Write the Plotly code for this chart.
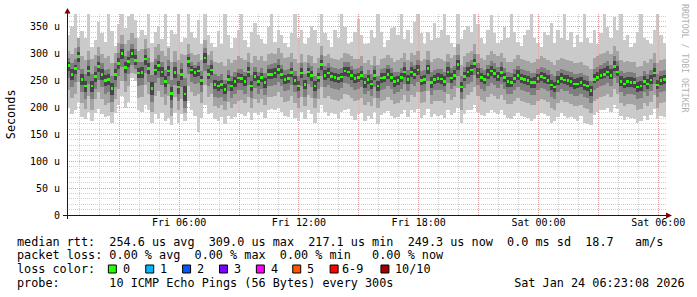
import plotly.graph_objects as go
from datetime import datetime, timedelta

# ---------------- data (10-minute steps, 30 hours) ----------------
START = datetime(2026, 1, 23, 0, 23, 8)
STEP_MIN = 10
HOURS = 30

median = [278, 262, 272, 295, 252, 240, 268, 240, 258, 276, 262, 250, 252, 236, 262, 282, 300, 275, 285, 300, 288, 264, 265, 290, 272, 236, 270, 278, 266, 249, 268, 226, 265, 238, 262, 225,
          285, 270, 265, 268, 250, 292, 262, 270, 243, 240, 243, 234, 252, 240, 248, 255, 254, 249, 266, 240, 258, 249, 256, 246, 262, 262, 264, 271, 262, 252, 254, 265, 250, 240, 264, 243,
          266, 260, 240, 256, 280, 260, 264, 258, 256, 254, 257, 268, 266, 260, 254, 256, 260, 246, 252, 244, 260, 240, 255, 256, 262, 256, 248, 250, 256, 266, 252, 266, 262, 270, 250, 252,
          272, 246, 252, 254, 253, 248, 266, 255, 260, 280, 238, 258, 266, 270, 282, 264, 256, 252, 262, 268, 263, 258, 265, 256, 248, 247, 254, 260, 254, 252, 250, 246, 246, 254, 258, 255,
          250, 242, 238, 249, 254, 251, 250, 248, 244, 244, 246, 242, 240, 232, 252, 256, 260, 262, 266, 260, 276, 266, 248, 244, 248, 247, 246, 238, 240, 248, 244, 251, 264, 242, 250, 252]

ping_max = [335, 350, 390, 318, 342, 330, 390, 312, 325, 360, 338, 322, 390, 342, 315, 355, 390, 348, 370, 390, 362, 330, 345, 335, 390, 320, 340, 352, 328, 390, 315, 345, 336, 390, 322, 330,
            390, 340, 330, 362, 318, 390, 335, 320, 312, 342, 318, 390, 335, 310, 330, 345, 390, 325, 312, 340, 358, 335, 328, 318, 350, 390, 322, 345, 335, 320, 312, 338, 390, 330, 345, 318,
            330, 352, 345, 320, 390, 338, 325, 312, 345, 330, 390, 350, 318, 322, 340, 365, 335, 318, 320, 345, 330, 390, 340, 312, 325, 348, 350, 335, 390, 328, 345, 320, 360, 390, 338, 318,
            340, 325, 358, 330, 345, 390, 335, 320, 312, 390, 328, 345, 352, 340, 390, 355, 330, 318, 345, 372, 338, 320, 325, 350, 330, 390, 340, 322, 315, 335, 345, 390, 330, 320, 312, 340,
            335, 358, 320, 345, 330, 390, 325, 340, 312, 335, 322, 390, 330, 320, 345, 318, 338, 390, 350, 330, 368, 345, 390, 325, 335, 312, 320, 340, 390, 330, 325, 318, 345, 390, 335, 320]

ping_hi2 = [305, 300, 310, 330, 295, 288, 305, 290, 298, 312, 300, 292, 295, 282, 302, 320, 335, 318, 325, 338, 330, 305, 308, 328, 310, 285, 312, 318, 305, 295, 310, 285, 305, 288, 300, 298,
            318, 302, 298, 300, 288, 325, 298, 305, 285, 282, 285, 278, 290, 282, 288, 295, 292, 288, 302, 282, 295, 288, 295, 286, 300, 302, 300, 310, 302, 292, 294, 302, 290, 282, 300, 285,
            298, 295, 282, 292, 315, 296, 300, 292, 290, 288, 292, 302, 300, 296, 290, 290, 296, 282, 288, 280, 296, 280, 290, 292, 298, 292, 285, 288, 292, 302, 288, 302, 298, 306, 286, 290,
            305, 285, 290, 292, 290, 286, 300, 292, 298, 318, 280, 295, 302, 305, 318, 300, 292, 288, 298, 305, 300, 295, 302, 292, 285, 284, 290, 298, 290, 288, 286, 282, 284, 290, 295, 292,
            288, 284, 280, 288, 292, 290, 288, 286, 282, 282, 285, 280, 278, 272, 292, 296, 300, 302, 306, 300, 315, 305, 288, 284, 286, 285, 284, 276, 278, 286, 282, 290, 302, 282, 288, 290]

ping_hi3 = [292, 282, 290, 312, 272, 262, 288, 262, 278, 295, 282, 270, 272, 258, 282, 302, 318, 296, 305, 318, 308, 285, 285, 308, 292, 260, 290, 298, 285, 270, 288, 252, 285, 262, 282, 255,
            300, 285, 280, 285, 268, 310, 280, 288, 262, 258, 262, 252, 270, 258, 266, 272, 272, 266, 284, 260, 276, 266, 274, 264, 280, 281, 282, 290, 280, 270, 272, 284, 268, 258, 282, 262,
            282, 277, 258, 274, 298, 278, 282, 275, 273, 271, 274, 285, 284, 278, 271, 273, 277, 263, 270, 262, 278, 258, 272, 274, 280, 274, 266, 267, 273, 284, 270, 284, 280, 288, 268, 270,
            288, 266, 270, 272, 272, 267, 284, 274, 278, 298, 258, 276, 284, 288, 300, 282, 274, 270, 280, 286, 282, 276, 284, 274, 266, 265, 272, 278, 272, 270, 268, 264, 265, 272, 276, 273,
            270, 262, 258, 268, 272, 270, 268, 266, 262, 263, 265, 260, 258, 250, 272, 276, 280, 282, 286, 280, 296, 286, 268, 264, 266, 266, 264, 256, 258, 268, 262, 270, 282, 262, 268, 270]

ping_hi4 = [285, 272, 280, 303, 262, 250, 277, 250, 267, 285, 272, 260, 262, 246, 272, 292, 308, 285, 294, 308, 297, 274, 275, 298, 282, 248, 280, 287, 275, 259, 278, 238, 275, 250, 272, 240,
            294, 278, 273, 277, 259, 302, 271, 280, 252, 249, 252, 243, 261, 249, 257, 264, 263, 258, 275, 250, 267, 258, 265, 255, 271, 271, 273, 280, 271, 261, 263, 274, 259, 249, 273, 252,
            274, 268, 249, 265, 289, 269, 273, 266, 265, 262, 265, 276, 275, 269, 262, 264, 268, 254, 261, 252, 269, 249, 264, 265, 271, 265, 257, 258, 264, 275, 261, 275, 271, 279, 259, 261,
            280, 256, 261, 264, 263, 258, 275, 265, 270, 289, 248, 267, 275, 279, 291, 273, 265, 261, 271, 277, 272, 267, 275, 265, 257, 256, 263, 269, 263, 261, 259, 255, 256, 263, 267, 264,
            261, 252, 248, 259, 264, 261, 260, 257, 253, 254, 256, 251, 249, 240, 263, 267, 271, 273, 277, 271, 287, 277, 258, 254, 257, 257, 255, 247, 249, 259, 253, 261, 274, 252, 259, 261]

ping_lo4 = [268, 252, 262, 285, 242, 228, 258, 228, 248, 266, 252, 240, 242, 224, 252, 272, 290, 265, 276, 292, 280, 254, 255, 280, 262, 224, 260, 268, 256, 238, 258, 214, 255, 226, 252, 212,
            276, 262, 257, 259, 241, 283, 253, 260, 234, 231, 234, 225, 243, 231, 239, 246, 245, 240, 257, 231, 249, 240, 247, 237, 253, 253, 255, 262, 253, 243, 245, 256, 241, 231, 255, 234,
            256, 250, 230, 247, 270, 251, 254, 249, 247, 245, 248, 259, 257, 251, 245, 247, 251, 237, 243, 235, 251, 230, 246, 247, 253, 247, 239, 241, 247, 257, 243, 257, 253, 261, 241, 243,
            262, 236, 243, 245, 244, 240, 257, 246, 251, 270, 228, 249, 257, 261, 273, 255, 247, 243, 253, 259, 254, 249, 256, 247, 239, 238, 245, 251, 245, 243, 241, 237, 237, 245, 249, 246,
            243, 233, 229, 241, 246, 243, 242, 239, 235, 236, 238, 233, 231, 222, 245, 249, 253, 255, 259, 253, 268, 259, 240, 236, 239, 239, 237, 229, 231, 241, 235, 243, 256, 234, 241, 243]

ping_lo3 = [255, 238, 248, 270, 228, 215, 244, 215, 235, 252, 238, 226, 228, 210, 238, 258, 275, 250, 262, 280, 272, 240, 242, 265, 248, 210, 246, 254, 242, 225, 244, 200, 242, 212, 238, 200,
            262, 248, 244, 246, 228, 268, 240, 246, 220, 218, 220, 212, 230, 218, 226, 232, 232, 226, 242, 218, 236, 226, 234, 224, 240, 240, 242, 248, 240, 230, 232, 242, 228, 218, 240, 220,
            244, 238, 218, 234, 258, 238, 242, 236, 235, 232, 236, 246, 244, 238, 232, 234, 238, 225, 230, 222, 238, 218, 233, 234, 240, 234, 226, 228, 234, 244, 230, 244, 240, 248, 228, 230,
            250, 224, 232, 232, 232, 228, 245, 234, 240, 258, 215, 236, 244, 248, 260, 242, 234, 230, 240, 246, 242, 236, 244, 234, 226, 226, 232, 238, 232, 230, 228, 224, 224, 232, 236, 234,
            230, 220, 216, 228, 234, 230, 230, 226, 222, 222, 225, 220, 218, 208, 232, 236, 240, 242, 246, 240, 255, 246, 228, 222, 226, 226, 224, 216, 218, 228, 222, 230, 244, 220, 228, 230]

ping_lo2 = [232, 218, 225, 248, 208, 198, 222, 196, 215, 228, 215, 205, 208, 192, 215, 235, 250, 228, 240, 265, 262, 218, 220, 242, 225, 192, 222, 230, 220, 205, 222, 185, 220, 195, 215, 190,
            240, 228, 222, 225, 208, 242, 220, 225, 202, 200, 204, 196, 210, 200, 206, 212, 214, 208, 220, 200, 216, 208, 215, 205, 220, 220, 222, 228, 220, 210, 212, 222, 208, 200, 220, 202,
            224, 218, 200, 215, 238, 218, 222, 216, 214, 212, 216, 226, 224, 218, 212, 214, 218, 205, 210, 202, 218, 200, 212, 214, 220, 214, 206, 208, 214, 224, 210, 224, 220, 228, 208, 210,
            230, 206, 212, 212, 212, 208, 225, 214, 220, 236, 196, 216, 224, 228, 238, 222, 214, 210, 220, 226, 222, 216, 224, 214, 206, 206, 212, 218, 212, 210, 208, 204, 204, 212, 216, 214,
            210, 200, 196, 208, 214, 210, 210, 206, 202, 202, 205, 200, 198, 190, 212, 216, 220, 222, 226, 220, 234, 226, 208, 202, 206, 206, 204, 196, 198, 208, 202, 210, 224, 200, 208, 210]

ping_min = [200, 188, 195, 210, 182, 178, 192, 175, 190, 198, 188, 182, 185, 172, 190, 205, 222, 200, 210, 255, 250, 195, 192, 205, 195, 172, 188, 178, 190, 175, 180, 168, 190, 172, 188, 175,
            212, 195, 185, 155, 180, 205, 188, 190, 178, 175, 182, 170, 185, 178, 182, 190, 188, 185, 192, 176, 190, 186, 192, 180, 195, 198, 196, 200, 192, 184, 182, 196, 180, 175, 192, 178,
            195, 188, 172, 190, 205, 192, 185, 190, 188, 180, 192, 196, 198, 185, 176, 188, 190, 175, 185, 178, 192, 170, 186, 190, 194, 185, 180, 182, 188, 195, 182, 196, 192, 198, 180, 186,
            198, 182, 188, 185, 186, 180, 195, 186, 190, 200, 172, 188, 196, 195, 205, 192, 186, 184, 190, 196, 192, 188, 195, 186, 180, 178, 184, 190, 185, 182, 180, 175, 178, 186, 190, 188,
            185, 172, 175, 182, 190, 185, 180, 182, 178, 175, 184, 172, 170, 168, 186, 192, 195, 196, 200, 192, 205, 198, 184, 176, 182, 180, 178, 172, 175, 185, 176, 186, 198, 178, 184, 182]

y_tick_vals = [0, 50, 100, 150, 200, 250, 300, 350]
y_tick_text = ["0", "50 u", "100 u", "150 u", "200 u", "250 u", "300 u", "350 u"]
x_tick_vals = ["2026-01-23 03:00", "2026-01-23 06:00", "2026-01-23 09:00", "2026-01-23 12:00",
               "2026-01-23 15:00", "2026-01-23 18:00", "2026-01-23 21:00", "2026-01-24 00:00",
               "2026-01-24 03:00", "2026-01-24 06:00"]
x_tick_text = ["", "Fri 06:00", "", "Fri 12:00", "", "Fri 18:00", "", "Sat 00:00", "", "Sat 06:00"]

legend_rows = [
    "median rtt:  254.6 us avg  309.0 us max  217.1 us min  249.3 us now  0.0 ms sd  18.7   am/s",
    "packet loss: 0.00 % avg  0.00 % max  0.00 % min   0.00 % now",
    "loss color:",
    "probe:       10 ICMP Echo Pings (56 Bytes) every 300s                 Sat Jan 24 06:23:08 2026",
]
loss_labels = ["0", "1", "2", "3", "4", "5", "6-9", "10/10"]
loss_colors = ["#26ff00", "#00b8ff", "#0059ff", "#7e00ff", "#ff00ff", "#ff5500", "#ff0000", "#a10000"]

N = len(median)
for arr in (ping_max, ping_hi2, ping_hi3, ping_hi4, ping_lo4, ping_lo3, ping_lo2, ping_min):
    assert len(arr) == N, len(arr)

# ---------------- geometry helpers ----------------
W, H = 697, 297
L, R, T, B = 67, 29, 14, 82
PW, PH = W - L - R, H - T - B
YMAX = 374


def px(x):
    return (x - L) / PW


def py(y):
    return (H - B - y) / PH


step = timedelta(minutes=STEP_MIN)
times = [START + step * (i + 0.5) for i in range(N)]
step_ms = STEP_MIN * 60 * 1000
end = START + timedelta(hours=HOURS)

fig = go.Figure()

bands = [
    (ping_min, ping_max, "#cacaca"),
    (ping_lo2, ping_hi2, "#a4a4a4"),
    (ping_lo3, ping_hi3, "#7e7e7e"),
    (ping_lo4, ping_hi4, "#464646"),
]
for lo, hi, col in bands:
    fig.add_trace(go.Bar(
        x=times, base=lo, y=[h - l for l, h in zip(lo, hi)],
        width=step_ms, marker=dict(color=col, line=dict(width=0)),
        hoverinfo="skip"))

MED_H = 5
fig.add_trace(go.Bar(
    x=times, base=[m - MED_H / 2 for m in median], y=[MED_H] * N,
    width=step_ms * 0.8, marker=dict(color=loss_colors[0], line=dict(width=0)),
    hoverinfo="skip"))

GRID = "rgba(191,191,191,0.75)"
MGRID = "rgba(230,128,128,0.55)"
shapes = []
# major vertical grid re-drawn over the smoke (rrdtool draws grid above graph)
for tv in x_tick_vals:
    shapes.append(dict(type="line", xref="x", yref="y", x0=tv, x1=tv, y0=190, y1=YMAX,
                       layer="above", line=dict(color="rgba(230,128,128,0.45)", width=1, dash="1px,1px")))

# axes with arrows
AX = "#1a1a1a"
ARROW = "#800000"
shapes.append(dict(type="line", xref="paper", yref="paper", x0=px(63), x1=px(669), y0=py(215.5), y1=py(215.5),
                   layer="above", line=dict(color=AX, width=1)))
shapes.append(dict(type="line", xref="paper", yref="paper", x0=px(67.5), x1=px(67.5), y0=py(219), y1=py(13),
                   layer="above", line=dict(color=AX, width=1)))
shapes.append(dict(type="path", xref="paper", yref="paper", layer="above",
                   path=f"M {px(668)},{py(212.5)} L {px(674)},{py(215.5)} L {px(668)},{py(218.5)} Z",
                   fillcolor=ARROW, line=dict(color=ARROW, width=0)))
shapes.append(dict(type="path", xref="paper", yref="paper", layer="above",
                   path=f"M {px(64.5)},{py(13.5)} L {px(67.5)},{py(8)} L {px(70.5)},{py(13.5)} Z",
                   fillcolor=ARROW, line=dict(color=ARROW, width=0)))

MONO = "DejaVu Sans Mono"
annotations = []
row_y = [241.5, 255.3, 269.0, 282.7]
for txt, yy in zip(legend_rows, row_y):
    annotations.append(dict(text=txt.replace(" ", "\u00a0"), xref="paper", yref="paper",
                            x=px(16), y=py(yy), xanchor="left", yanchor="middle",
                            showarrow=False, borderpad=0,
                            font=dict(family=MONO, size=11.8, color="black")))

box_x = [108.5, 146, 183, 220, 257, 293.5, 331, 382]
label_x = [122, 159.5, 196, 234, 271, 307, 342, 395.5]
for bx, lx, lab, col in zip(box_x, label_x, loss_labels, loss_colors):
    shapes.append(dict(type="rect", xref="paper", yref="paper", x0=px(bx), x1=px(bx + 8),
                       y0=py(273), y1=py(265), fillcolor=col, layer="above",
                       line=dict(color="black", width=1)))
    annotations.append(dict(text=lab, xref="paper", yref="paper", x=px(lx), y=py(269.0),
                            xanchor="left", yanchor="middle", showarrow=False, borderpad=0,
                            font=dict(family=MONO, size=11.8, color="black")))

annotations.append(dict(text="Seconds", xref="paper", yref="paper", x=px(11), y=py(114),
                        xanchor="center", yanchor="middle", textangle=-90, showarrow=False,
                        font=dict(family=MONO, size=11.8, color="black")))
annotations.append(dict(text="RRDTOOL / TOBI OETIKER", xref="paper", yref="paper", x=px(687), y=py(59),
                        xanchor="center", yanchor="middle", textangle=90, showarrow=False,
                        font=dict(family=MONO, size=8.2, color="#b0b0b0")))

fig.update_layout(
    width=W, height=H, margin=dict(l=L, r=R, t=T, b=B, pad=0),
    paper_bgcolor="white", plot_bgcolor="white",
    barmode="overlay", bargap=0, bargroupgap=0, showlegend=False,
    shapes=shapes, annotations=annotations,
    xaxis=dict(type="date", range=[START, end], tickvals=x_tick_vals, ticktext=x_tick_text,
               showgrid=True, gridcolor=MGRID, griddash="1px,1px", gridwidth=1,
               minor=dict(dtick=3600000, tick0="2026-01-23 00:00", showgrid=True,
                          gridcolor=GRID, griddash="1px,1px", gridwidth=1),
               zeroline=False, showline=False, ticks="",
               tickfont=dict(family=MONO, size=10, color="black"), fixedrange=True),
    yaxis=dict(range=[0, YMAX], tickvals=y_tick_vals, ticktext=y_tick_text,
               showgrid=True, gridcolor=MGRID, griddash="1px,1px", gridwidth=1,
               minor=dict(dtick=10, tick0=0, showgrid=True,
                          gridcolor=GRID, griddash="1px,1px", gridwidth=1),
               zeroline=False, showline=False, ticks="",
               ticklabelstandoff=6,
               tickfont=dict(family=MONO, size=10, color="black"), fixedrange=True),
)

fig.write_html("out.html")
